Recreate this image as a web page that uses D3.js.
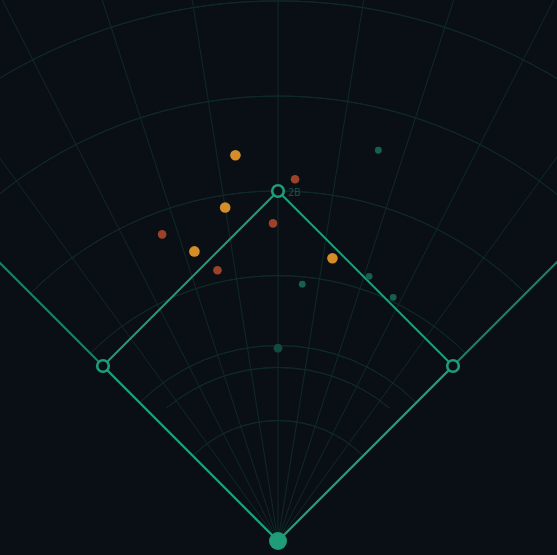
<html>
<head>
  <title>Spray chart</title>
  <script src='https://d3js.org/d3.v7.min.js'></script>
  <style>
    body { margin: 0; background: #0b1017; }
  </style>
</head>
<body>
<script>

// rings (feet from home plate) and spokes (degrees off dead centre)
var ringFt = [43.8, 63.1, 71.1, 96.5, 127.3, 161.8, 196.4],
    ringSpan = [45, 40, 45, 45, 45, 60, 60],
    spokeDeg = [-36, -27, -18, -9, 0, 9, 18, 27, 36];

// bases
var baseName = ["1B", "2B", "3B"],
    baseAngle = [45, 0, -45],
    baseDist = [90, 127.28, 90];

// batted balls: spray angle (deg), distance (ft), result
var sprayAngle = [-6.3, 2.7, -9.0, -0.9, -20.7, -16.1, -12.6, 10.9, 14.4, 19.0, 25.3, 5.4, 0],
    sprayDist = [141.1, 131.7, 122.8, 115.5, 119.2, 109.6, 100.9, 104.7, 146.7, 101.8, 98.0, 93.8, 70.1],
    sprayType = ["hit", "out", "hit", "out", "out", "hit", "out", "hit", "other", "other", "other", "other", "mound"];

var types = ["hit", "out", "other", "mound"];

var width = 557,
    height = 555,
    home = {x: 278, y: 541},
    lineColor = "#1f9c78",
    gridColor = "#0f2a27",
    bg = "#0a0f16";

var r = d3.scaleLinear().domain([0, 90]).range([0, 247.5]);

var color = d3.scaleOrdinal()
  .domain(types)
  .range(["#d48d27", "#9c4229", "#17604e", "#134a40"]);

var size = d3.scaleOrdinal()
  .domain(types)
  .range([5.3, 4.3, 3.4, 4.4]);

function px(deg, ft) {
  var a = deg * Math.PI / 180;
  return [home.x + r(ft) * Math.sin(a), home.y - r(ft) * Math.cos(a)];
}

var svg = d3.select('body')
  .append('svg')
  .attr('width', width)
  .attr('height', height);

svg.append('rect')
  .attr('width', width)
  .attr('height', height)
  .attr('fill', bg);

var grid = svg.append('g')
  .attr('transform', 'translate(' + home.x + ',' + home.y + ')');

var arc = d3.arc();

grid.selectAll('path.ring')
  .data(ringFt)
  .enter()
  .append('path')
  .attr('class', 'ring')
  .attr('d', function(d, i) {
    var s = ringSpan[i] * Math.PI / 180;
    return arc({innerRadius: r(d), outerRadius: r(d), startAngle: -s, endAngle: s});
  })
  .attr('fill', 'none')
  .attr('stroke', gridColor)
  .attr('stroke-width', 1);

grid.selectAll('line.spoke')
  .data(spokeDeg)
  .enter()
  .append('line')
  .attr('class', 'spoke')
  .attr('x1', 0)
  .attr('y1', 0)
  .attr('x2', function(d) { return 700 * Math.sin(d * Math.PI / 180); })
  .attr('y2', function(d) { return -700 * Math.cos(d * Math.PI / 180); })
  .attr('stroke', gridColor)
  .attr('stroke-width', 1);

// foul lines out to the edge
var foul = [-45, 45];
svg.selectAll('line.foul')
  .data(foul)
  .enter()
  .append('line')
  .attr('class', 'foul')
  .attr('x1', home.x)
  .attr('y1', home.y)
  .attr('x2', function(d) { return px(d, 300)[0]; })
  .attr('y2', function(d) { return px(d, 300)[1]; })
  .attr('stroke', lineColor)
  .attr('stroke-opacity', 0.8)
  .attr('stroke-width', 2);

// diamond
var diamond = [[0, 0]].concat(baseAngle.map(function(a, i) { return [a, baseDist[i]]; })).concat([[0, 0]]);
svg.append('path')
  .attr('d', d3.line()(diamond.map(function(d) { return px(d[0], d[1]); })))
  .attr('fill', 'none')
  .attr('stroke', lineColor)
  .attr('stroke-width', 2);

// batted balls
svg.selectAll('circle.ball')
  .data(sprayDist)
  .enter()
  .append('circle')
  .attr('class', 'ball')
  .attr('cx', function(d, i) { return px(sprayAngle[i], d)[0]; })
  .attr('cy', function(d, i) { return px(sprayAngle[i], d)[1]; })
  .attr('r', function(d, i) { return size(sprayType[i]); })
  .attr('fill', function(d, i) { return color(sprayType[i]); });

// bases
svg.selectAll('circle.base')
  .data(baseName)
  .enter()
  .append('circle')
  .attr('class', 'base')
  .attr('cx', function(d, i) { return px(baseAngle[i], baseDist[i])[0]; })
  .attr('cy', function(d, i) { return px(baseAngle[i], baseDist[i])[1]; })
  .attr('r', 5.8)
  .attr('fill', bg)
  .attr('stroke', lineColor)
  .attr('stroke-width', 2.6);

svg.append('text')
  .attr('x', px(0, baseDist[1])[0] + 10)
  .attr('y', px(0, baseDist[1])[1] + 5)
  .attr('font-family', 'DejaVu Sans Mono')
  .attr('font-size', 10.5)
  .attr('fill', '#1a5044')
  .text(baseName[1]);

// home plate
svg.append('circle')
  .attr('cx', home.x)
  .attr('cy', home.y)
  .attr('r', 9)
  .attr('fill', lineColor);

</script>
</body>
</html>
